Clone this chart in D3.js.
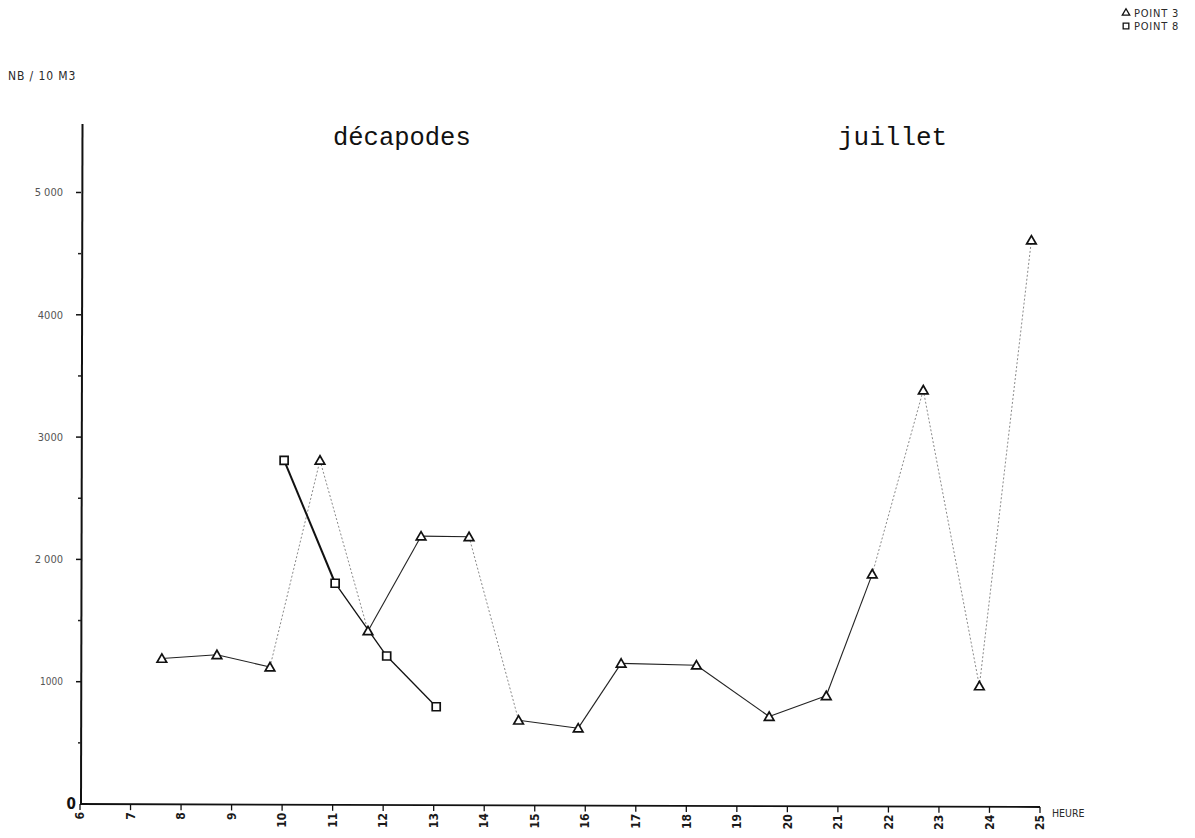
<!DOCTYPE html>
<html>
<head>
<meta charset="utf-8">
<script src="https://cdn.jsdelivr.net/npm/d3@7"></script>
<style>
  html, body { margin: 0; padding: 0; background: #fff; }
  svg { display: block; }
  .plot-font { font-family: "DejaVu Sans Condensed", "DejaVu Sans", sans-serif; fill: #2a2a2a; }
  .title { font-family: "Liberation Mono", "Courier New", monospace; fill: #111; }
</style>
</head>
<body>
<svg id="chart" width="1195" height="838"></svg>
<script>
// Hours of sampling (x) and density NB / 10 m3 (y) for each station
const hoursPoint3  = [7.62, 8.71, 9.76, 10.75, 11.70, 12.75, 13.70, 14.68, 15.86, 16.71, 18.20, 19.64, 20.77, 21.68, 22.69, 23.80, 24.83];
const valuesPoint3 = [1190, 1220, 1120, 2810, 1415, 2190, 2185, 685, 620, 1150, 1135, 715, 885, 1880, 3385, 965, 4610];

const hoursPoint8  = [10.04, 11.05, 12.07, 13.05];
const valuesPoint8 = [2810, 1805, 1210, 795];

// Axis ticks
const hourTicks = [6, 7, 8, 9, 10, 11, 12, 13, 14, 15, 16, 17, 18, 19, 20, 21, 22, 23, 24, 25];
const yTickValues = [0, 1000, 2000, 3000, 4000, 5000];
const yTickLabels = ["0", "1000", "2 000", "3000", "4000", "5 000"];
const yMinorTicks = [500, 1500, 2500, 3500, 4500];

// Segments of the POINT 3 trace drawn as a faint dotted stroke
const faintSegments = [2, 3, 6, 13, 14, 15];

const svg = d3.select("#chart");

const x = d3.scaleLinear().domain([6, 25]).range([80, 1040]);
const y = d3.scaleLinear().domain([0, 5560]).range([804, 124]);

// Vertical axis
svg.append("line")
  .attr("x1", x(6) + 1).attr("x2", x(6) + 2.5)
  .attr("y1", y(0)).attr("y2", y(5560))
  .attr("stroke", "#111").attr("stroke-width", 2);

svg.append("g").selectAll("line").data(yTickValues.filter(v => v > 0)).join("line")
  .attr("x1", x(6) - 4).attr("x2", x(6) + 1)
  .attr("y1", d => y(d)).attr("y2", d => y(d))
  .attr("stroke", "#111").attr("stroke-width", 1.5);
svg.append("g").selectAll("line").data(yMinorTicks).join("line")
  .attr("x1", x(6) - 2).attr("x2", x(6) + 1)
  .attr("y1", d => y(d)).attr("y2", d => y(d))
  .attr("stroke", "#222").attr("stroke-width", 1.5);

svg.append("g").selectAll("text").data(yTickValues).join("text")
  .attr("class", "plot-font")
  .attr("x", d => d === 0 ? 76 : 63)
  .attr("y", d => y(d))
  .attr("dy", "0.35em")
  .attr("text-anchor", "end")
  .style("font-size", d => d === 0 ? "15px" : (d === 1000 ? "10px" : "11px"))
  .style("font-weight", d => d === 0 ? "bold" : "normal")
  .style("fill", d => d === 0 ? "#111" : "#555")
  .text((d, i) => yTickLabels[i]);

// Horizontal axis
svg.append("line")
  .attr("x1", x(6)).attr("x2", x(25))
  .attr("y1", y(0)).attr("y2", y(0) + 3)
  .attr("stroke", "#111").attr("stroke-width", 1.8);

svg.append("g").selectAll("line").data(hourTicks).join("line")
  .attr("x1", d => x(d)).attr("x2", d => x(d))
  .attr("y1", d => y(0) + (d - 6) / 19 * 3).attr("y2", d => y(0) + (d - 6) / 19 * 3 + 6)
  .attr("stroke", "#111").attr("stroke-width", 1.3);

svg.append("g").selectAll("text").data(hourTicks).join("text")
  .attr("class", "plot-font")
  .attr("transform", d => `translate(${x(d)},${y(0) + 8 + (d - 6) / 19 * 3}) rotate(-90)`)
  .attr("text-anchor", "end")
  .attr("dy", "0.35em")
  .style("font-size", "12px")
  .style("font-weight", "bold")
  .style("fill", "#1a1a1a")
  .text(d => d);

svg.append("text").attr("class", "plot-font")
  .attr("x", 1052).attr("y", 817)
  .style("font-size", "10.5px")
  .text("HEURE");

// Unit label
svg.append("text").attr("class", "plot-font")
  .attr("x", 8).attr("y", 80)
  .style("font-size", "12px")
  .style("letter-spacing", "0.9px")
  .text("NB / 10 M3");

// Titles
svg.append("text").attr("class", "title")
  .attr("x", 333).attr("y", 145)
  .style("font-size", "25.5px")
  .text("décapodes");
svg.append("text").attr("class", "title")
  .attr("x", 838).attr("y", 145)
  .style("font-size", "26px")
  .text("juillet");

// POINT 3 trace, one segment at a time
const p3 = hoursPoint3.map((h, i) => [h, valuesPoint3[i]]);
const segs3 = d3.pairs(p3).map((pair, i) => ({ pair, faint: faintSegments.includes(i) }));
svg.append("g").selectAll("line").data(segs3).join("line")
  .attr("x1", d => x(d.pair[0][0])).attr("y1", d => y(d.pair[0][1]))
  .attr("x2", d => x(d.pair[1][0])).attr("y2", d => y(d.pair[1][1]))
  .attr("stroke", d => d.faint ? "#8a8a8a" : "#222")
  .attr("stroke-width", d => d.faint ? 1 : 1.1)
  .attr("stroke-dasharray", d => d.faint ? "2,2" : null);

// POINT 8 trace
const p8 = hoursPoint8.map((h, i) => [h, valuesPoint8[i]]);
svg.append("g").selectAll("line").data(d3.pairs(p8)).join("line")
  .attr("x1", d => x(d[0][0])).attr("y1", d => y(d[0][1]))
  .attr("x2", d => x(d[1][0])).attr("y2", d => y(d[1][1]))
  .attr("stroke", "#111")
  .attr("stroke-width", (d, i) => i === 0 ? 2 : 1.3);

// Markers
const triangle = d3.symbol().type(d3.symbolTriangle).size(40);
svg.append("g").selectAll("path").data(p3).join("path")
  .attr("d", triangle)
  .attr("transform", d => `translate(${x(d[0])},${y(d[1]) + 1})`)
  .attr("fill", "#fff").attr("stroke", "#111").attr("stroke-width", 1.7);

const square = d3.symbol().type(d3.symbolSquare).size(64);
svg.append("g").selectAll("path").data(p8).join("path")
  .attr("d", square)
  .attr("transform", d => `translate(${x(d[0])},${y(d[1])})`)
  .attr("fill", "#fff").attr("stroke", "#111").attr("stroke-width", 1.7);

// Legend
const legend = svg.append("g").attr("transform", "translate(1126,0)");
legend.append("path")
  .attr("d", d3.symbol().type(d3.symbolTriangle).size(24))
  .attr("transform", "translate(0,13)")
  .attr("fill", "#fff").attr("stroke", "#111").attr("stroke-width", 1.3);
legend.append("text").attr("class", "plot-font")
  .attr("x", 8).attr("y", 17)
  .style("font-size", "11px").style("letter-spacing", "0.8px")
  .text("POINT 3");
legend.append("path")
  .attr("d", d3.symbol().type(d3.symbolSquare).size(32))
  .attr("transform", "translate(0,26)")
  .attr("fill", "#fff").attr("stroke", "#111").attr("stroke-width", 1.3);
legend.append("text").attr("class", "plot-font")
  .attr("x", 8).attr("y", 30)
  .style("font-size", "11px").style("letter-spacing", "0.8px")
  .text("POINT 8");
</script>
</body>
</html>
